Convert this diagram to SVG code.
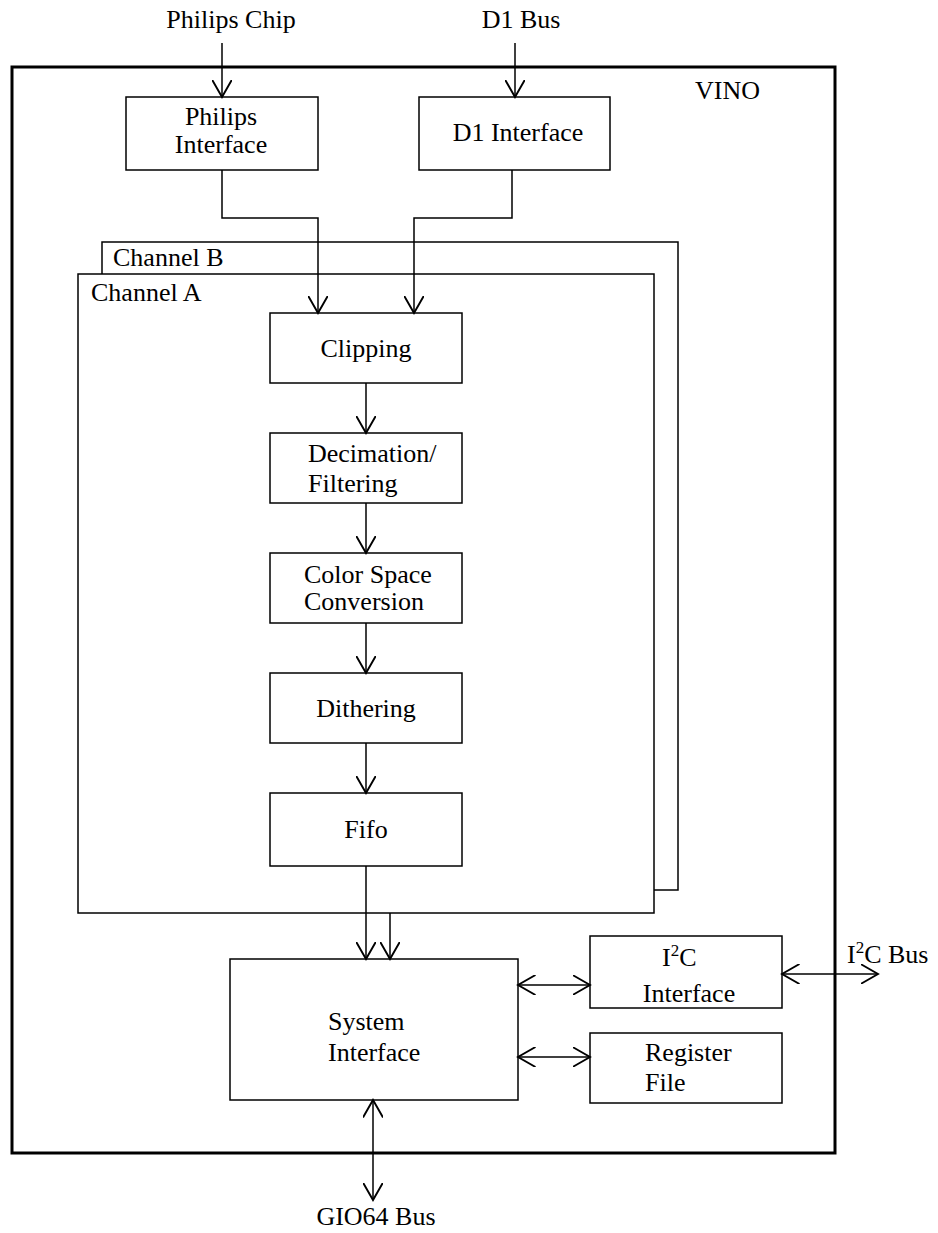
<svg xmlns="http://www.w3.org/2000/svg" width="938" height="1233" viewBox="0 0 938 1233">
<style>
text{font-family:"Liberation Serif","Times New Roman",serif;font-size:26px;fill:#000}
.box{fill:#fff;stroke:#000;stroke-width:1.5}
.frame{fill:none;stroke:#000;stroke-width:1.5}
.vino{fill:none;stroke:#000;stroke-width:3}
.c{text-anchor:middle}
.ln{fill:none;stroke:#000;stroke-width:1.5}
</style>
<defs>
<marker id="ah" markerUnits="userSpaceOnUse" markerWidth="20" markerHeight="20" refX="14" refY="8" orient="auto-start-reverse" viewBox="0 0 16 16">
<path d="M0,0 L14,8 L0,16" fill="none" stroke="#000" stroke-width="1.5"/>
</marker>
</defs>
<rect x="0" y="0" width="938" height="1233" fill="#fff"/>
<g id="vino"><rect class="vino" x="12" y="67" width="823" height="1086"/><text x="695" y="99">VINO</text></g>
<g id="channel-b"><rect class="frame" x="102" y="242" width="576" height="648"/><text x="113" y="266">Channel B</text></g>
<g id="channel-a"><rect class="box" x="78" y="274" width="576" height="639"/><text x="91" y="301">Channel A</text></g>
<g id="philips-chip"><text class="c" x="231" y="28">Philips Chip</text></g>
<g id="d1-bus"><text class="c" x="521" y="28">D1 Bus</text></g>
<g id="philips-interface"><rect class="box" x="126" y="97" width="192" height="73"/><text class="c" x="221" y="125">Philips</text><text class="c" x="221" y="153">Interface</text></g>
<g id="d1-interface"><rect class="box" x="419" y="97" width="191" height="73"/><text class="c" x="518" y="141">D1 Interface</text></g>
<g id="clipping"><rect class="box" x="270" y="313" width="192" height="70"/><text class="c" x="366" y="357">Clipping</text></g>
<g id="decimation"><rect class="box" x="270" y="433" width="192" height="70"/><text x="308" y="462">Decimation/</text><text x="308" y="492">Filtering</text></g>
<g id="color-space"><rect class="box" x="270" y="553" width="192" height="70"/><text x="304" y="583">Color Space</text><text x="304" y="610">Conversion</text></g>
<g id="dithering"><rect class="box" x="270" y="673" width="192" height="70"/><text class="c" x="366" y="717">Dithering</text></g>
<g id="fifo"><rect class="box" x="270" y="793" width="192" height="73"/><text class="c" x="366" y="838">Fifo</text></g>
<g id="system-interface"><rect class="box" x="230" y="959" width="288" height="141"/><text x="328" y="1030">System</text><text x="328" y="1061">Interface</text></g>
<g id="i2c-interface"><rect class="box" x="590" y="936" width="192" height="72"/><text x="662" y="966">I<tspan font-size="17" dy="-10">2</tspan><tspan dy="10">C</tspan></text><text class="c" x="689" y="1002">Interface</text></g>
<g id="register-file"><rect class="box" x="590" y="1033" width="192" height="70"/><text x="645" y="1061">Register</text><text x="645" y="1091">File</text></g>
<g id="i2c-bus"><text x="847" y="963">I<tspan font-size="17" dy="-10">2</tspan><tspan dy="10">C Bus</tspan></text></g>
<g id="gio64-bus"><text class="c" x="376" y="1225">GIO64 Bus</text></g>
<g id="connectors">
<path class="ln" d="M222,43 V97" marker-end="url(#ah)"/>
<path class="ln" d="M515,43 V97" marker-end="url(#ah)"/>
<path class="ln" d="M222,170 V218 H318 V313" marker-end="url(#ah)"/>
<path class="ln" d="M512,170 V218 H414 V313" marker-end="url(#ah)"/>
<path class="ln" d="M366,383 V433" marker-end="url(#ah)"/>
<path class="ln" d="M366,503 V553" marker-end="url(#ah)"/>
<path class="ln" d="M366,623 V673" marker-end="url(#ah)"/>
<path class="ln" d="M366,743 V793" marker-end="url(#ah)"/>
<path class="ln" d="M366,866 V959" marker-end="url(#ah)"/>
<path class="ln" d="M390,913 V959" marker-end="url(#ah)"/>
<path class="ln" d="M518,985 H590" marker-start="url(#ah)" marker-end="url(#ah)"/>
<path class="ln" d="M518,1057 H590" marker-start="url(#ah)" marker-end="url(#ah)"/>
<path class="ln" d="M782,974 H878" marker-start="url(#ah)" marker-end="url(#ah)"/>
<path class="ln" d="M373,1100 V1200" marker-start="url(#ah)" marker-end="url(#ah)"/>
</g>
</svg>
